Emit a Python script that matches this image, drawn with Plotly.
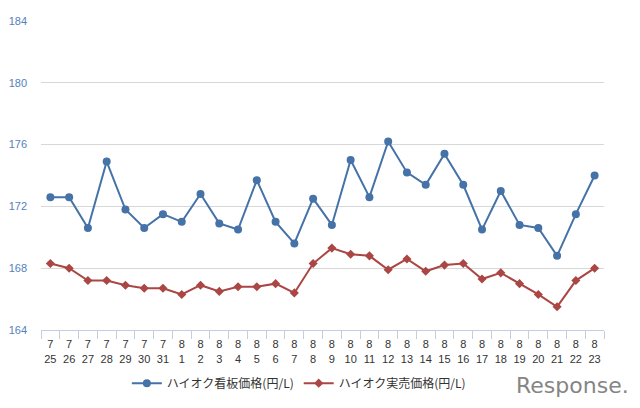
import plotly.graph_objects as go

months = [7]*7 + [8]*23
days = [25, 26, 27, 28, 29, 30, 31] + list(range(1, 24))
categories = [f"{m}<br>{d}" for m, d in zip(months, days)]

kanban = [172.6, 172.6, 170.6, 174.9, 171.8, 170.6, 171.5, 171.0, 172.8, 170.9,
          170.5, 173.7, 171.0, 169.6, 172.5, 170.8, 175.0, 172.6, 176.2, 174.2,
          173.4, 175.4, 173.4, 170.5, 173.0, 170.8, 170.6, 168.8, 171.5, 174.0]
jitsubai = [168.3, 168.0, 167.2, 167.2, 166.9, 166.7, 166.7, 166.3, 166.9, 166.5,
            166.8, 166.8, 167.0, 166.4, 168.3, 169.3, 168.9, 168.8, 167.9, 168.6,
            167.8, 168.2, 168.3, 167.3, 167.7, 167.0, 166.3, 165.5, 167.2, 168.0]
series_names = ["ハイオク看板価格(円/L)", "ハイオク実売価格(円/L)"]
y_ticks = [164, 168, 172, 176, 180, 184]

fig = go.Figure()
fig.add_trace(go.Scatter(
    x=categories, y=kanban, name=series_names[0], mode="lines+markers",
    line=dict(color="#4572A7", width=2),
    marker=dict(symbol="circle", size=8, color="#4572A7"),
))
fig.add_trace(go.Scatter(
    x=categories, y=jitsubai, name=series_names[1], mode="lines+markers",
    line=dict(color="#AA4643", width=2),
    marker=dict(symbol="diamond", size=7, color="#AA4643"),
))

# the page body has an 8px margin, so the figure is sized to sit inside it
fig.update_layout(
    width=624, height=392,
    margin=dict(l=33, r=28, t=13, b=70, autoexpand=False),
    paper_bgcolor="white", plot_bgcolor="white",
    font=dict(family="Liberation Sans, Arial, sans-serif", size=11, color="#333333"),
    showlegend=True,
    legend=dict(orientation="h", x=0.458, xanchor="center", y=-0.172, yanchor="middle",
                font=dict(family="Noto Sans CJK JP", size=12, color="#333333"),
                itemwidth=30, tracegroupgap=0),
    annotations=[dict(text="Response.", xref="paper", yref="paper",
                      x=1.048, y=-0.178, showarrow=False,
                      font=dict(family="DejaVu Sans", size=22, color="#858585"),
                      xanchor="right", yanchor="middle")],
)

fig.update_xaxes(
    type="category", tickson="boundaries", ticks="outside", ticklen=8, tickcolor="#C0D0E0",
    showline=True, linecolor="#C0D0E0", linewidth=1, showgrid=False, tickangle=0,
    automargin=False, ticklabelstandoff=4,
    tickfont=dict(size=11, color="#333333"), range=[-0.5, 29.5], fixedrange=True,
)
fig.update_yaxes(
    range=[164, 184], tickvals=y_ticks, showgrid=True, gridcolor="#D8D8D8", gridwidth=1,
    zeroline=False, showline=False, ticks="", ticklabelstandoff=13, automargin=False,
    tickfont=dict(size=11, color="#5580C0"),
)

fig.write_html("out.html")
